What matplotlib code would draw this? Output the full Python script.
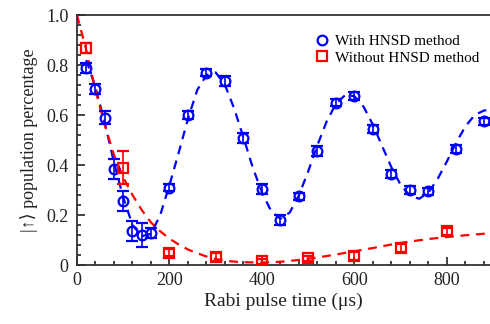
import matplotlib
matplotlib.use("Agg")
import matplotlib.pyplot as plt
from matplotlib.ticker import MultipleLocator, FuncFormatter

# ==========================
# Data
# ==========================
# with HNSD method (blue circles)
with_t = [20, 40, 60, 80, 100, 120, 140, 160, 200, 240, 280, 320, 360, 400,
          440, 480, 520, 560, 600, 640, 680, 720, 760, 820, 880]
with_p = [0.79, 0.705, 0.59, 0.385, 0.255, 0.135, 0.12, 0.13, 0.31, 0.60, 0.77,
          0.735, 0.51, 0.305, 0.18, 0.275, 0.455, 0.65, 0.675, 0.545, 0.365,
          0.30, 0.295, 0.465, 0.575]
with_err = [0.02, 0.02, 0.025, 0.04, 0.04, 0.04, 0.047, 0.02, 0.015, 0.015, 0.015,
            0.02, 0.02, 0.02, 0.02, 0.015, 0.02, 0.015, 0.015, 0.015, 0.015,
            0.015, 0.015, 0.015, 0.015]

# without HNSD method (red squares)
without_t = [20, 100, 200, 300, 400, 500, 600, 700, 800]
without_p = [0.87, 0.39, 0.05, 0.033, 0.016, 0.027, 0.036, 0.068, 0.135]
without_err = [0.02, 0.067, 0.015, 0.015, 0.01, 0.01, 0.015, 0.015, 0.015]

# fitted curves
fit_with_t = [20, 40, 60, 80, 100, 120, 140, 160, 180, 200, 220, 240, 260, 280,
              300, 320, 340, 360, 380, 400, 420, 440, 460, 480, 500, 520, 540,
              560, 580, 600, 620, 640, 660, 680, 700, 720, 740, 760, 780, 800,
              820, 840, 860, 880, 893]
fit_with_p = [0.82, 0.71, 0.57, 0.41, 0.27, 0.16, 0.115, 0.125, 0.20, 0.32, 0.45,
              0.585, 0.70, 0.76, 0.77, 0.72, 0.625, 0.51, 0.39, 0.29, 0.215,
              0.185, 0.21, 0.28, 0.375, 0.48, 0.575, 0.645, 0.68, 0.675, 0.632,
              0.56, 0.475, 0.39, 0.32, 0.277, 0.265, 0.29, 0.345, 0.415, 0.49,
              0.555, 0.60, 0.618, 0.62]

fit_without_t = [0, 10, 20, 40, 60, 80, 100, 120, 140, 160, 180, 200, 220, 240,
                 260, 280, 300, 330, 360, 400, 440, 480, 520, 560, 600, 640, 680,
                 720, 760, 800, 840, 893]
fit_without_p = [1.00, 0.93, 0.86, 0.70, 0.56, 0.44, 0.35, 0.28, 0.22, 0.17,
                 0.135, 0.105, 0.082, 0.062, 0.047, 0.034, 0.024, 0.015, 0.011,
                 0.010, 0.013, 0.020, 0.030, 0.042, 0.055, 0.068, 0.082, 0.094,
                 0.104, 0.112, 0.119, 0.127]

xticks = [0, 200, 400, 600, 800]
yticks = [0, 0.2, 0.4, 0.6, 0.8, 1.0]

# ==========================
# Plot
# ==========================
plt.rcParams["font.family"] = ["Liberation Serif", "DejaVu Serif"]
plt.rcParams["mathtext.fontset"] = "stix"

fig = plt.figure(figsize=(4.9, 3.24), dpi=100)
ax = fig.add_axes([77 / 490, 1 - 265 / 324, 1 - 77 / 490, 250 / 324])

ax.plot(fit_with_t, fit_with_p, "--", color="#0000ff", lw=1.6, dashes=(4, 3))
ax.plot(fit_without_t, fit_without_p, "--", color="#ff0000", lw=1.6, dashes=(4, 3))

ax.errorbar(with_t, with_p, yerr=with_err, fmt="o", ms=7, mfc="none", mec="#0000ff",
            mew=1.6, ecolor="#0000ff", elinewidth=1.2, capsize=4, capthick=1.2,
            label="With HNSD method", zorder=3)
ax.errorbar(without_t, without_p, yerr=without_err, fmt="s", ms=7, mfc="none",
            mec="#ff0000", mew=1.6, ecolor="#ff0000", elinewidth=1.2, capsize=4,
            capthick=1.2, label="Without HNSD method", zorder=3)

ax.set_xlim(0, 893)
ax.set_ylim(0, 1.0)
ax.set_xticks(xticks)
ax.set_yticks(yticks)
ax.yaxis.set_major_formatter(FuncFormatter(lambda v, p: "0" if v == 0 else f"{v:.1f}"))
ax.xaxis.set_minor_locator(MultipleLocator(40))
ax.yaxis.set_minor_locator(MultipleLocator(0.04))
ax.tick_params(which="both", direction="in", top=False, right=False,
               labelsize=13, colors="#222222", width=1.2)
ax.tick_params(which="major", length=6, pad=5)
ax.tick_params(which="minor", length=3)
ax.tick_params(axis="y", pad=6)

for side in ["left", "bottom", "top"]:
    ax.spines[side].set_linewidth(1.3)
    ax.spines[side].set_color("#333333")
ax.spines["right"].set_visible(False)

ax.set_xlabel("Rabi pulse time (\u03bcs)", fontsize=14, color="#222222", labelpad=3)
ax.set_ylabel("|\u2191\u27e9 population percentage", fontsize=13, color="#222222",
              labelpad=6)

handles, labels = ax.get_legend_handles_labels()
handles = [h[0] for h in handles]
ax.legend(handles, labels, loc="upper right", bbox_to_anchor=(0.995, 0.96),
          frameon=False, fontsize=11, handletextpad=0.3, labelspacing=0.2,
          handlelength=1.0, borderaxespad=0.2)

fig.savefig("out.png", dpi=100)
